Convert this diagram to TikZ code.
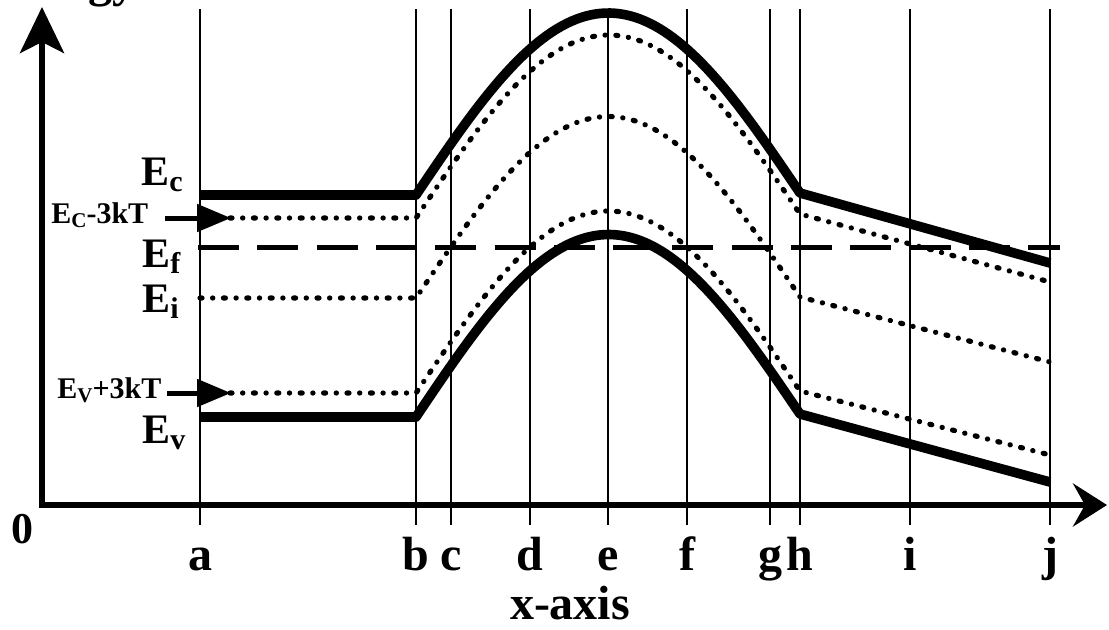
\documentclass[tikz,border=0pt]{standalone}
\usepackage{fontspec}
\setmainfont{Liberation Serif}
\usetikzlibrary{arrows.meta}

\newcommand{\bandE}[1]{E\raisebox{-3pt}{\fontsize{15pt}{15pt}\selectfont #1}}
\newcommand{\shiftE}[1]{E\raisebox{-2pt}{\fontsize{10.5pt}{10.5pt}\selectfont #1}}

\begin{document}
\begin{tikzpicture}[
        x=0.5pt, y=-0.5pt,
        axisline/.style={line width=3pt, line join=miter},
        gridline/.style={line width=0.8pt},
        bandedge/.style={line width=4.8pt, line join=round},
        leveldots/.style={line width=2.6pt, line cap=round, dash pattern=on 1pt off 5.3pt on 0.1pt off 5.3pt},
        fermidash/.style={line width=2.5pt, dash pattern=on 20.5pt off 9.15pt},
        markerarrow/.style={line width=2.5pt, -{Triangle[length=17pt, width=13.5pt]}},
        biglabel/.style={font=\fontsize{21pt}{21pt}\selectfont\bfseries, inner sep=0pt, anchor=base west},
        smalllabel/.style={font=\fontsize{15pt}{15pt}\selectfont\bfseries, inner sep=0pt, anchor=base west},
        ticklabel/.style={font=\fontsize{24pt}{24pt}\selectfont\bfseries, inner sep=0pt, anchor=base}
    ]
    \useasboundingbox (0,0) rectangle (1109,629);

    % --- cut-off axis title at the top ---
    \begin{scope}
        \clip (0,0) rectangle (1109,629);
        \node[ticklabel, anchor=base east] (ytitle) at (137,-4) {Energy};
    \end{scope}

    % --- vertical position lines and their letters ---
    \foreach \name/\xpos in {a/200, b/416, c/451, d/530, e/608, f/687, g/770, h/800, i/910, j/1050} {
        \draw[gridline] (\xpos,9) -- (\xpos,525);
        \node[ticklabel] (pos-\name) at (\xpos,570) {\name};
    }

    % --- axes ---
    \coordinate (origin) at (42,505);
    \coordinate (ytop) at (42,7);
    \coordinate (xend) at (1107,505);
    \draw[axisline, {Stealth[length=23pt, width=22pt, inset=5.5pt]}-{Stealth[length=17pt, width=21.5pt, inset=6pt]}] (ytop) -- (origin) -- (xend);
    \node[ticklabel, font=\fontsize{22pt}{22pt}\selectfont\bfseries] (zero) at (22,543) {0};
    \node[ticklabel] (xtitle) at (570,619) {x-axis};

    % --- band edges: flat, barrier, then linear slope ---
    \foreach \st/\lft/\hgt/\rgt in {200/195/193/263, 200/417/414/482}
        \draw[bandedge] (\st,\lft) -- (416,\lft)
            -- plot[domain=416:800, samples=80] (\x, {\lft+(\hgt-\lft)*(\x-416)/384-181*sin(0.46875*(\x-416))})
            -- (1050,\rgt);

    % --- dotted levels ---
    \foreach \st/\lft/\hgt/\rgt in {230/218/214/282, 200/298/297/362, 230/393/391/455}
        \draw[leveldots] (\st,\lft) -- (416,\lft)
            -- plot[domain=416:800, samples=80] (\x, {\lft+(\hgt-\lft)*(\x-416)/384-181*sin(0.46875*(\x-416))})
            -- (1050,\rgt);

    % --- Fermi level ---
    \draw[fermidash] (198,247) -- (1060,247);

    % --- level labels ---
    \node[biglabel] (eclbl) at (141,185) {\bandE{c}};
    \node[biglabel] (eflbl) at (142,267) {\bandE{f}};
    \node[biglabel] (eilbl) at (142,312) {\bandE{i}};
    \node[biglabel] (evlbl) at (142,443) {\bandE{v}};
    \node[smalllabel] (ec3lbl) at (51,223) {\shiftE{C}-3kT};
    \node[smalllabel] (ev3lbl) at (57,398) {\shiftE{V}+3kT};

    % --- 3kT markers ---
    \coordinate (ec3tail) at (165,218);
    \coordinate (ec3tip) at (231,218);
    \coordinate (ev3tail) at (167,393);
    \coordinate (ev3tip) at (231,393);
    \draw[markerarrow] (ec3tail) -- (ec3tip);
    \draw[markerarrow] (ev3tail) -- (ev3tip);

\end{tikzpicture}
\end{document}
